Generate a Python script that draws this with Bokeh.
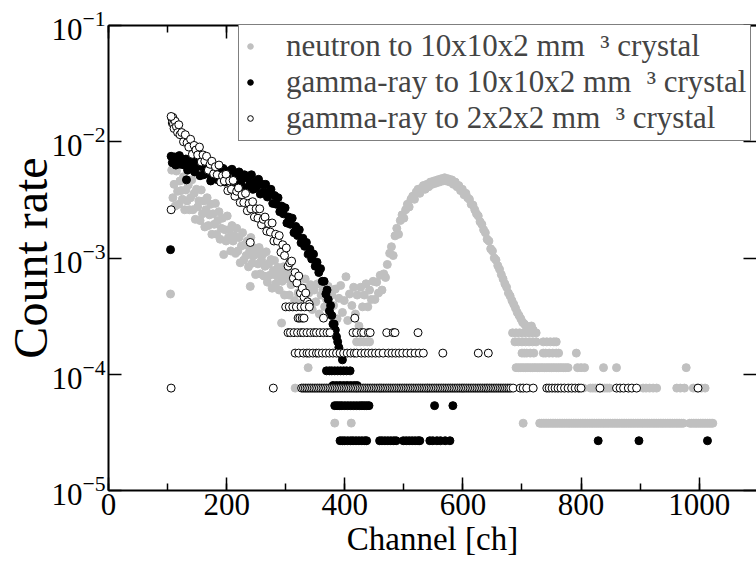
from bokeh.plotting import figure
from bokeh.models import (Range1d, LinearAxis, LogAxis, Legend, LegendItem,
                          FixedTicker, SingleIntervalTicker, ColumnDataSource)
from bokeh.embed import file_html
from bokeh.resources import INLINE

FONT = "Liberation Serif"

# ---------------- neutron to 10x10x2 mm3 crystal (grey) ----------------
gray_ch = [105, 107, 109, 111, 113, 115, 117, 119, 121, 123, 125, 127, 129, 131, 133, 135, 137, 139, 141, 143,
           145, 147, 149, 151, 153, 155, 157, 159, 161, 163, 165, 167, 169, 171, 173, 175, 177, 179, 181, 183,
           185, 187, 189, 191, 193, 195, 197, 199, 201, 203, 205, 207, 209, 211, 213, 215, 217, 219, 221, 223,
           225, 227, 229, 231, 233, 235, 237, 239, 240, 241, 243, 245, 247, 249, 251, 253, 255, 257, 259, 261,
           263, 265, 267, 269, 271, 273, 275, 277, 279, 281, 283, 285, 287, 289, 291, 293, 294, 296, 298, 300,
           303, 306, 309, 312, 315, 316, 318, 321, 324, 327, 330, 333, 336, 338, 339, 342, 345, 348, 351, 354,
           357, 360, 363, 366, 369, 372, 375, 378, 381, 383, 384, 387, 390, 393, 396, 399, 402, 405, 408, 411,
           412, 415, 418, 421, 424, 427, 430, 433, 436, 439, 442, 445, 448, 451, 454, 457, 460, 463, 466, 469,
           472, 476, 479, 482, 485, 488, 491, 494, 497, 500, 503, 506, 509, 512, 515, 518, 521, 524, 527, 530,
           533, 536, 539, 542, 545, 548, 551, 554, 557, 560, 563, 566, 569, 572, 575, 578, 581, 584, 587, 590,
           593, 596, 599, 602, 605, 608, 611, 614, 617, 620, 623, 626, 629, 632, 635, 638, 641, 644, 647, 650,
           653, 656, 659, 662, 665, 668, 671, 674, 677, 680, 683, 686, 689, 692, 695, 698, 701, 704, 707, 710,
           713, 716, 719]
gray_val = [4.9e-4, 5.7e-3, 3.3e-3, 4.3e-3, 2.8e-3, 5.6e-3, 3.75e-3, 2.9e-3, 4.6e-3, 3.8e-3, 3.2e-3, 5.0e-3, 2.6e-3, 3.85e-3, 3.1e-3, 4.25e-3, 2.6e-3, 3.3e-3, 4.7e-3, 2.6e-3,
            3.6e-3, 2.15e-3, 3.9e-3, 2.75e-3, 3.1e-3, 2.1e-3, 3.85e-3, 2.4e-3, 3.1e-3, 1.85e-3, 2.6e-3, 3.3e-3, 1.9e-3, 2.35e-3, 2.9e-3, 1.6e-3, 2.4e-3, 1.95e-3, 2.95e-3, 1.6e-3,
            2.1e-3, 2.5e-3, 1.45e-3, 1.8e-3, 2.2e-3, 1.07e-3, 1.75e-3, 1.4e-3, 2.3e-3, 1.5e-3, 1.75e-3, 1.15e-3, 1.9e-3, 1.4e-3, 1.55e-3, 1.1e-3, 1.8e-3, 1.15e-3, 1.5e-3, 9.1e-4,
            1.27e-3, 1.65e-3, 9.6e-4, 1.3e-3, 1.05e-3, 1.4e-3, 8.4e-4, 1.15e-3, 5.7e-4, 1.5e-3, 9.0e-4, 1.04e-3, 1.22e-3, 7.2e-4, 1.09e-3, 8.9e-4, 1.23e-3, 7.3e-4, 9.6e-4, 1.07e-3,
            7.0e-4, 8.5e-4, 1.13e-3, 6.2e-4, 8.9e-4, 7.1e-4, 9.7e-4, 5.5e-4, 7.8e-4, 9.5e-4, 6.0e-4, 7.0e-4, 8.3e-4, 5.3e-4, 7.4e-4, 2.76e-4, 6.3e-4, 8.4e-4, 4.8e-4, 6.6e-4,
            7.3e-4, 4.8e-4, 5.9e-4, 7.5e-4, 4.3e-4, 7.6e-5, 6.2e-4, 5.0e-4, 6.8e-4, 4.1e-4, 5.5e-4, 6.6e-4, 4.0e-4, 1.14e-4, 5.0e-4, 5.9e-4, 3.6e-4, 5.3e-4, 4.2e-4, 6.0e-4,
            3.3e-4, 4.8e-4, 5.4e-4, 3.8e-4, 4.4e-4, 5.7e-4, 3.3e-4, 4.8e-4, 3.9e-4, 3.8e-5, 5.4e-4, 3.0e-4, 4.5e-4, 5.8e-4, 3.4e-4, 4.3e-4, 6.9e-4, 2.9e-4, 4.9e-4, 3.8e-5,
            3.9e-4, 5.6e-4, 3.3e-4, 4.8e-4, 2.6e-4, 5.6e-4, 3.8e-4, 4.8e-4, 6.0e-4, 3.8e-4, 5.3e-4, 4.4e-4, 6.3e-4, 4.4e-4, 6.2e-4, 5.0e-4, 7.1e-4, 5.3e-4, 7.3e-4, 6.8e-4,
            8.8e-4, 1.1e-3, 1.25e-3, 1.05e-3, 1.55e-3, 1.8e-3, 1.6e-3, 2.1e-3, 2.35e-3, 2.2e-3, 2.6e-3, 2.9e-3, 2.75e-3, 3.2e-3, 3.4e-3, 3.2e-3, 3.7e-3, 3.9e-3, 3.6e-3, 4.0e-3,
            4.2e-3, 3.9e-3, 4.3e-3, 4.1e-3, 4.5e-3, 4.3e-3, 4.6e-3, 4.4e-3, 4.7e-3, 4.5e-3, 4.8e-3, 4.6e-3, 4.9e-3, 4.6e-3, 4.8e-3, 4.5e-3, 4.7e-3, 4.3e-3, 4.5e-3, 4.1e-3,
            4.2e-3, 3.8e-3, 3.9e-3, 3.5e-3, 3.6e-3, 3.3e-3, 3.2e-3, 2.9e-3, 2.85e-3, 2.6e-3, 2.4e-3, 2.3e-3, 2.05e-3, 1.95e-3, 1.75e-3, 1.65e-3, 1.45e-3, 1.4e-3, 1.2e-3, 1.15e-3,
            1.0e-3, 9.6e-4, 8.6e-4, 8.0e-4, 7.2e-4, 6.6e-4, 6.0e-4, 5.6e-4, 5.0e-4, 4.7e-4, 4.3e-4, 4.0e-4, 3.7e-4, 3.4e-4, 3.2e-4, 3.0e-4, 2.8e-4, 2.7e-4, 2.6e-4, 2.5e-4,
            2.4e-4, 2.6e-4, 2.4e-4]
# quantised low-count channels (one list per count level)
gray_lv6_val = 2.27e-4
gray_lv6_ch = [684, 690, 696, 702, 708, 714, 720, 724]
gray_lv5_val = 1.90e-4
gray_lv5_ch = [420, 426, 432, 438, 442, 688, 694, 700, 706, 712, 718, 724, 736, 742, 748, 754, 758]
gray_lv4_val = 1.52e-4
gray_lv4_ch = [700, 704, 708, 714, 720, 736, 740, 746, 752, 758, 762, 792]
gray_lv3_val = 1.14e-4
gray_lv3_ch = [690, 694, 698, 702, 706, 710, 714, 718, 722, 726, 730, 734, 738, 742, 746, 750, 754, 758, 762,
               766, 770, 774, 778, 794, 800, 806, 838, 860, 978]
gray_lv2_val = 7.6e-5
gray_lv2_ch = [380, 420, 460, 540, 600, 640, 700, 706, 712, 760, 770, 780, 786, 796, 804, 816, 820, 824, 828,
               832, 836, 840, 844, 848, 905, 910, 916, 922, 928, 962, 968, 975, 990, 996, 1004, 1010]
gray_lv1_val = 3.79e-5
gray_lv1_ch = [702, 730, 733, 736, 739, 742, 745, 748, 751, 754, 757, 760, 763, 766, 769, 772, 775, 778, 781,
               784, 787, 790, 793, 796, 799, 802, 805, 808, 811, 814, 817, 820, 823, 826, 829, 832, 835, 838,
               841, 844, 847, 850, 853, 856, 859, 862, 865, 868, 871, 874, 877, 880, 883, 886, 889, 892, 895,
               898, 901, 904, 907, 910, 913, 916, 919, 922, 925, 928, 931, 934, 937, 940, 943, 946, 949, 952,
               955, 958, 961, 964, 967, 970, 973, 984, 987, 990, 993, 996, 999, 1002, 1005, 1008, 1011, 1014,
               1017, 1020, 1023]

# ---------------- gamma-ray to 10x10x2 mm3 crystal (black) ----------------
black_ch = [105, 106, 108, 110, 112, 114, 116, 118, 120, 122, 125, 128, 131, 132, 134, 137, 140, 143, 146, 149,
            152, 155, 158, 161, 164, 167, 170, 173, 176, 179, 182, 185, 188, 191, 194, 197, 200, 203, 206, 209,
            212, 215, 218, 221, 224, 227, 230, 233, 236, 239, 242, 245, 248, 251, 254, 257, 260, 263, 266, 269,
            272, 275, 278, 281, 284, 287, 290, 293, 296, 299, 302, 305, 308, 311, 314, 317, 320, 323, 326, 329,
            332, 335, 338, 341, 344, 347, 350, 353, 356, 359, 362, 365, 368, 370, 372, 374, 376, 378, 380, 382,
            384, 386, 388, 390, 393, 396]
black_val = [1.18e-3, 7.5e-3, 6.6e-3, 7.2e-3, 7.4e-3, 6.3e-3, 7.2e-3, 6.7e-3, 7.6e-3, 6.4e-3, 7.1e-3, 6.3e-3, 7.1e-3, 4.7e-3, 5.7e-3, 6.8e-3, 6.2e-3, 6.9e-3, 5.5e-3, 6.1e-3,
             6.5e-3, 5.1e-3, 6.1e-3, 5.2e-3, 6.2e-3, 5.3e-3, 5.5e-3, 4.6e-3, 5.9e-3, 5.0e-3, 6.0e-3, 4.7e-3, 5.5e-3, 5.0e-3, 5.9e-3, 4.5e-3, 5.15e-3, 5.6e-3, 4.6e-3, 5.8e-3,
             4.25e-3, 5.25e-3, 4.7e-3, 5.5e-3, 4.3e-3, 4.8e-3, 5.2e-3, 4.0e-3, 4.9e-3, 4.3e-3, 5.2e-3, 3.9e-3, 4.5e-3, 4.1e-3, 4.75e-3, 3.55e-3, 4.3e-3, 3.7e-3, 4.3e-3, 3.35e-3,
             3.7e-3, 3.9e-3, 2.95e-3, 3.45e-3, 2.9e-3, 3.3e-3, 2.5e-3, 2.8e-3, 2.4e-3, 2.7e-3, 2.0e-3, 2.25e-3, 1.95e-3, 2.2e-3, 1.65e-3, 1.87e-3, 1.56e-3, 1.75e-3, 1.35e-3, 1.48e-3,
             1.26e-3, 1.36e-3, 1.08e-3, 1.19e-3, 9.8e-4, 1.08e-3, 8.5e-4, 9.2e-4, 7.5e-4, 8.1e-4, 6.3e-4, 6.3e-4, 4.9e-4, 5.3e-4, 4.4e-4, 3.5e-4, 3.9e-4, 3.2e-4, 2.7e-4, 2.7e-4,
             2.4e-4, 2.1e-4, 1.9e-4, 1.7e-4, 1.5e-4, 1.33e-4]
black_lv4_val = 1.07e-4
black_lv4_ch = [369, 374, 378, 383, 388, 393, 398, 403, 409]
black_lv3_val = 8.0e-5
black_lv3_ch = [380, 386, 392, 398, 404, 410, 416, 421]
black_lv2_val = 5.37e-5
black_lv2_ch = [383, 387, 391, 395, 400, 405, 410, 415, 420, 425, 429, 433, 437, 441, 552, 583]
black_lv1_val = 2.68e-5
black_lv1_ch = [392, 396, 400, 405, 410, 414, 419, 424, 429, 434, 437, 459, 463, 468, 473, 478, 483, 487, 499,
                504, 509, 514, 519, 524, 527, 544, 549, 556, 562, 570, 578, 829, 898, 1014]

# ---------------- gamma-ray to 2x2x2 mm3 crystal (open) ----------------
open_ch = [106, 107, 108, 109, 110, 111, 113, 115, 117, 119, 121, 124, 127, 130, 133, 136, 139, 142, 145, 148,
           151, 154, 157, 160, 163, 166, 169, 172, 175, 178, 181, 184, 187, 190, 193, 196, 199, 202, 205, 208,
           211, 214, 217, 220, 223, 226, 229, 232, 235, 238, 240, 241, 244, 247, 250, 253, 256, 259, 262, 265,
           268, 271, 274, 277, 280, 283, 286, 289, 292, 295, 298, 301, 304, 307, 310, 313, 316, 319, 322, 325,
           328, 331, 334, 337, 340]
open_val = [2.6e-3, 1.6e-2, 1.45e-2, 1.62e-2, 1.42e-2, 1.3e-2, 1.5e-2, 1.35e-2, 1.2e-2, 1.4e-2, 1.15e-2, 1.2e-2, 1.0e-2, 1.15e-2, 9.8e-3, 9.0e-3, 1.05e-2, 7.8e-3, 9.3e-3, 8.5e-3,
            7.7e-3, 9.0e-3, 6.7e-3, 7.7e-3, 6.8e-3, 7.5e-3, 5.7e-3, 6.4e-3, 6.8e-3, 5.3e-3, 6.1e-3, 5.2e-3, 6.3e-3, 4.5e-3, 5.1e-3, 4.6e-3, 5.25e-3, 3.8e-3, 4.6e-3, 3.9e-3,
            4.65e-3, 3.4e-3, 3.75e-3, 4.0e-3, 3.0e-3, 3.5e-3, 3.0e-3, 3.6e-3, 2.55e-3, 2.95e-3, 1.36e-3, 2.65e-3, 3.05e-3, 2.25e-3, 2.65e-3, 2.2e-3, 2.65e-3, 1.93e-3, 2.15e-3, 2.25e-3,
            1.7e-3, 1.98e-3, 1.67e-3, 2.0e-3, 1.4e-3, 1.6e-3, 1.4e-3, 1.56e-3, 1.12e-3, 1.3e-3, 1.05e-3, 1.22e-3, 8.5e-4, 9.1e-4, 9.4e-4, 6.7e-4, 7.5e-4, 6.1e-4, 7.0e-4, 5.0e-4,
            5.5e-4, 4.6e-4, 5.0e-4, 4.2e-4, 4.0e-4]
open_top_ch = [106]
open_top_val = [1.65e-2]
open_lv5_val = 3.8e-4
open_lv5_ch = [300, 306, 312, 318, 326, 332, 340]
open_lv4_val = 3.04e-4
open_lv4_ch = [321, 324, 328, 331, 364, 417]
open_lv3_val = 2.28e-4
open_lv3_ch = [304, 308, 314, 320, 326, 330, 336, 342, 348, 352, 358, 364, 370, 375, 414, 420, 428, 432, 440,
               443, 471, 482, 485, 524]
open_lv2_val = 1.52e-4
open_lv2_ch = [316, 322, 330, 336, 340, 346, 352, 356, 362, 368, 374, 380, 386, 392, 398, 404, 410, 416, 420,
               428, 434, 440, 446, 452, 458, 465, 474, 480, 486, 492, 498, 505, 512, 519, 526, 533, 566, 626, 643]
open_lv1_val = 7.6e-5
open_lv1_ch = [106, 279, 327, 330, 333, 336, 339, 342, 345, 348, 351, 354, 357, 360, 363, 366, 369, 372, 375, 378,
               381, 384, 387, 390, 393, 396, 399, 402, 405, 408, 411, 414, 417, 420, 423, 426, 429, 432, 435,
               438, 441, 444, 447, 450, 453, 456, 459, 462, 465, 468, 471, 474, 477, 480, 483, 486, 489, 492,
               495, 498, 501, 504, 507, 510, 513, 516, 519, 522, 525, 528, 531, 534, 537, 540, 543, 546, 549,
               552, 555, 558, 561, 564, 567, 570, 573, 576, 579, 582, 585, 588, 591, 594, 597, 600, 603, 606,
               609, 612, 615, 618, 621, 624, 627, 630, 633, 636, 639, 642, 645, 648, 651, 654, 657, 660, 663,
               666, 669, 672, 675, 678, 681, 685, 697, 702, 708, 719, 742, 746, 751, 756, 761, 766, 772, 778,
               784, 790, 796, 800, 832, 860, 866, 872, 880, 886, 894, 998]

x_ticks_major = 200
y_ticks = [1e-5, 1e-4, 1e-3, 1e-2, 1e-1]
labels = ["neutron to 10x10x2 mm\u2002\u00b3 crystal",
          "gamma-ray to 10x10x2 mm\u2002\u00b3 crystal",
          "gamma-ray to 2x2x2 mm\u2002\u00b3 crystal"]


def assemble(main_ch, main_val, levels):
    xs = list(main_ch)
    ys = list(main_val)
    for val, chs in levels:
        xs += list(chs)
        ys += [val] * len(chs)
    return ColumnDataSource(dict(x=xs, y=ys))


src_gray = assemble(gray_ch, gray_val, [(gray_lv6_val, gray_lv6_ch), (gray_lv5_val, gray_lv5_ch),
                                        (gray_lv4_val, gray_lv4_ch), (gray_lv3_val, gray_lv3_ch),
                                        (gray_lv2_val, gray_lv2_ch), (gray_lv1_val, gray_lv1_ch)])
src_black = assemble(black_ch, black_val, [(black_lv4_val, black_lv4_ch), (black_lv3_val, black_lv3_ch),
                                           (black_lv2_val, black_lv2_ch), (black_lv1_val, black_lv1_ch)])
src_open = assemble(open_ch + open_top_ch, open_val + open_top_val,
                    [(open_lv5_val, open_lv5_ch), (open_lv4_val, open_lv4_ch),
                     (open_lv3_val, open_lv3_ch), (open_lv2_val, open_lv2_ch),
                     (open_lv1_val, open_lv1_ch)])

p = figure(width=756, height=570, x_range=Range1d(0, 1097), y_range=Range1d(1e-5, 1e-1),
           y_axis_type="log", output_backend="svg", toolbar_location=None,
           min_border_left=108, min_border_right=0, min_border_top=25, min_border_bottom=80)
p.outline_line_color = None
p.grid.visible = False
p.background_fill_color = "white"
p.border_fill_color = "white"

r_gray = p.scatter("x", "y", source=src_gray, size=8, marker="circle",
                   fill_color="#c0c0c0", line_color="#c0c0c0")
r_black = p.scatter("x", "y", source=src_black, size=8, marker="circle",
                    fill_color="black", line_color="black")
r_open = p.scatter("x", "y", source=src_open, size=8, marker="circle",
                   fill_color="white", line_color="black", line_width=1)

xb = p.xaxis[0]
yl = p.yaxis[0]
xb.ticker = SingleIntervalTicker(interval=x_ticks_major, num_minor_ticks=2)
yl.ticker = FixedTicker(ticks=y_ticks)

for ax in (xb, yl):
    ax.axis_line_width = 2
    ax.major_tick_line_width = 1.5
    ax.minor_tick_line_width = 1.5
    ax.major_tick_in = 13
    ax.major_tick_out = 0
    ax.minor_tick_in = 7
    ax.minor_tick_out = 0
    ax.major_label_text_font = FONT
    ax.major_label_text_font_size = "31px"
    ax.major_label_text_color = "black"
    ax.axis_label_text_font = FONT
    ax.axis_label_text_font_style = "normal"
    ax.axis_label_text_color = "black"
yl.minor_tick_line_color = None
xb.major_label_standoff = 3
yl.major_label_standoff = 3
xb.axis_label = "Channel [ch]"
xb.axis_label_text_font_size = "33px"
xb.axis_label_standoff = 3
yl.axis_label = "Count rate"
yl.axis_label_text_font_size = "48px"
yl.axis_label_standoff = -9

top = LinearAxis(ticker=SingleIntervalTicker(interval=x_ticks_major, num_minor_ticks=2),
                 major_label_overrides={v: "" for v in range(0, 1200, 200)},
                 major_label_text_font_size="1px", major_label_standoff=0,
                 major_tick_in=13, major_tick_out=0, minor_tick_in=7, minor_tick_out=0,
                 axis_line_width=2, major_tick_line_width=1.5, minor_tick_line_width=1.5)
p.add_layout(top, "above")
right = LogAxis(ticker=FixedTicker(ticks=y_ticks),
                major_label_overrides={v: "" for v in y_ticks},
                major_label_text_font_size="1px", major_label_standoff=0,
                major_tick_in=13, major_tick_out=0, minor_tick_line_color=None,
                axis_line_color=None, major_tick_line_width=1.5)
p.add_layout(right, "right")

legend = Legend(items=[LegendItem(label=labels[0], renderers=[r_gray]),
                       LegendItem(label=labels[1], renderers=[r_black]),
                       LegendItem(label=labels[2], renderers=[r_open])],
                location=(130, 349), margin=0, padding=4, spacing=0,
                glyph_width=14, glyph_height=14, label_standoff=29, label_height=30,
                label_text_font=FONT, label_text_font_size="31px",
                border_line_color="black", border_line_width=1.5,
                background_fill_color="white", background_fill_alpha=1.0)
p.add_layout(legend)

open("out.html", "w").write(file_html(p, INLINE))
